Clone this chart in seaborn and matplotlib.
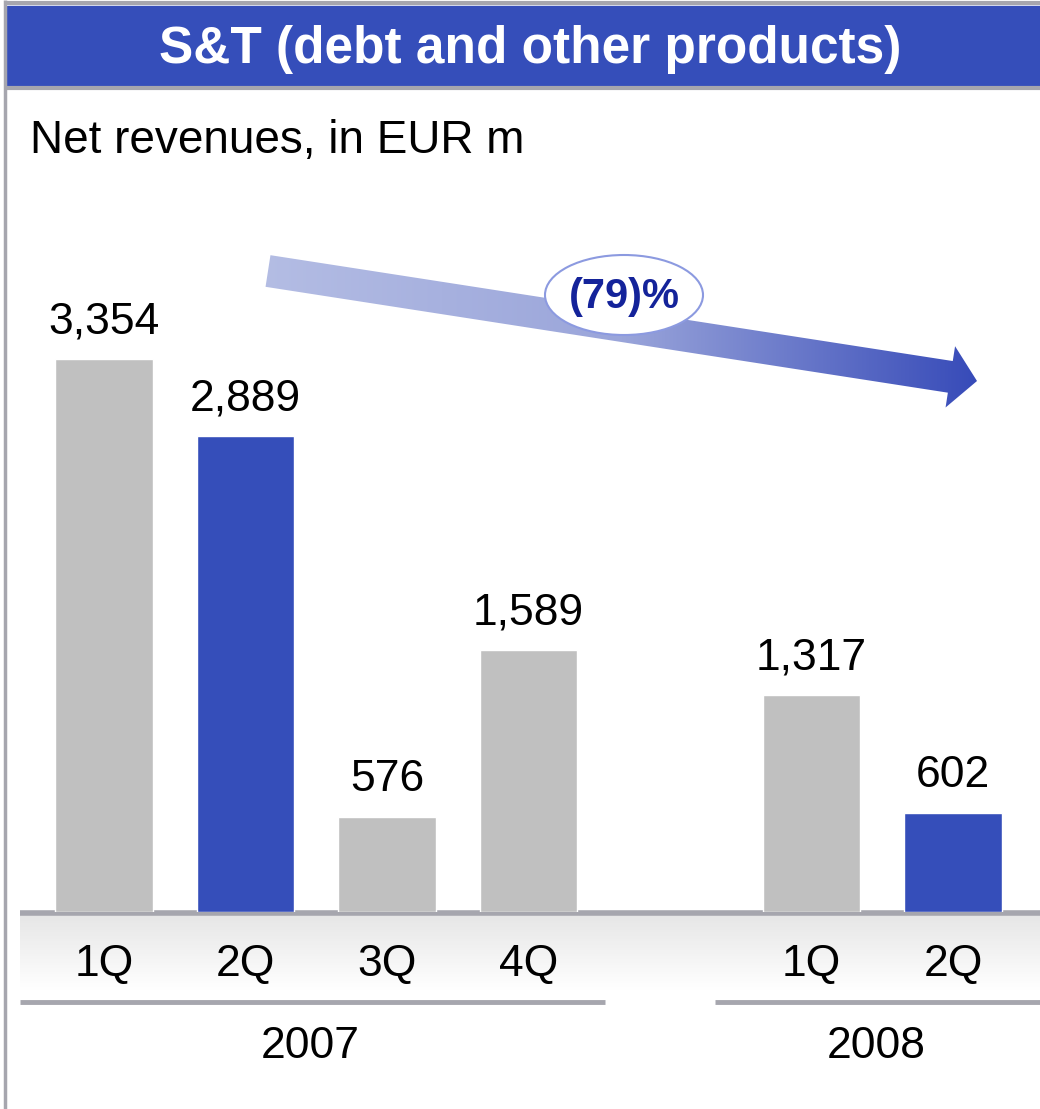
import numpy as np
import pandas as pd
import seaborn as sns
import matplotlib.pyplot as plt
from matplotlib.patches import Rectangle, Ellipse, Polygon
from matplotlib.transforms import blended_transform_factory

# chart data
quarters = ['1Q', '2Q', '3Q', '4Q', '1Q', '2Q']
years = ['2007', '2007', '2007', '2007', '2008', '2008']
revenues = [3354, 2889, 576, 1589, 1317, 602]
highlight = [False, True, False, False, False, True]
title = 'S&T (debt and other products)'
subtitle = 'Net revenues, in EUR m'
change_label = '(79)%'

BLUE = '#354EBA'
GREY_BAR = '#C0C0C0'
LINE_GREY = '#A6A6AE'

sns.set_style('white')
plt.rcParams['font.family'] = ['Liberation Sans', 'DejaVu Sans']
plt.rcParams['text.color'] = 'black'
plt.rcParams['xtick.color'] = 'black'

df = pd.DataFrame({'quarter': quarters, 'year': years, 'revenue': revenues, 'hl': highlight})
df['period'] = df['quarter'] + ' ' + df['year']

# empty slot between the two years
order = []
for y in df['year'].unique():
    if order:
        order.append('')
    order.extend(df.loc[df['year'] == y, 'period'])
palette = {p: (BLUE if h else GREY_BAR) for p, h in zip(df['period'], df['hl'])}

W, H = 1040, 1109
fig = plt.figure(figsize=(W / 100, H / 100), dpi=100)

# background overlay in pixel coordinates for decorations
ov = fig.add_axes([0, 0, 1, 1], zorder=0)
ov.set_facecolor('none')
ov.axis('off')

# bar axes: baseline at y=912px, slot width 141.5px, first bar centre at 104px
px_per_unit = (912 - 359) / 3354
base_frac = (H - 912) / H
top_frac = (H - 90) / H
ax = fig.add_axes([0, base_frac, 1, top_frac - base_frac], zorder=1)
ax.set_facecolor('none')
sns.barplot(data=df, x='period', y='revenue', hue='period', order=order,
            palette=palette, width=0.69, saturation=1, legend=False, ax=ax)
ax.set_xlim(-104 / 141.5, (W - 104) / 141.5)
ax.set_ylim(0, (912 - 90) / px_per_unit)
for c in ax.containers:
    ax.bar_label(c, fmt='{:,.0f}', padding=12, fontsize=32)
ax.set_xticks(range(len(order)))
ax.set_xticklabels([p.split(' ')[0] for p in order], fontsize=32)
ax.tick_params(axis='x', length=0, pad=23)
ax.set_yticks([])
ax.set_xlabel('')
ax.set_ylabel('')
sns.despine(ax=ax, left=True, bottom=True)

# year labels centred under each group
trans = blended_transform_factory(ax.transData, fig.transFigure)
for y in df['year'].unique():
    pos = [order.index(p) for p in df.loc[df['year'] == y, 'period']]
    ax.text(np.mean(pos) - 0.04, (H - 1047) / H, y, transform=trans, fontsize=32,
            ha='center', va='center')

# frame and title bar
ov.add_patch(Rectangle((7, 6), W - 7, 81, color=BLUE, zorder=1))
ov.plot([7, W], [3, 3], color=LINE_GREY, lw=3, solid_capstyle='butt')
ov.plot([7, W], [88, 88], color=LINE_GREY, lw=3, solid_capstyle='butt')
ov.plot([5, 5], [0, H], color=LINE_GREY, lw=2.5, solid_capstyle='butt')
ov.text(530, 50, title, color='white', fontsize=37, fontweight='bold',
        ha='center', va='center')
ov.text(30, 141, subtitle, fontsize=33, ha='left', va='center')

# grey gradient band under the baseline
band = np.linspace(0, 1, 100).reshape(-1, 1)
ov.imshow(band, extent=(20, W, 990, 914), cmap=sns.blend_palette(['#E6E6E6', '#FFFFFF'], as_cmap=True),
          aspect='auto', zorder=0)
ov.plot([20, W], [913, 913], color=LINE_GREY, lw=4, solid_capstyle='butt')
ov.plot([20, 605], [1002, 1002], color=LINE_GREY, lw=3.5, solid_capstyle='butt')
ov.plot([715, W], [1002, 1002], color=LINE_GREY, lw=3.5, solid_capstyle='butt')

# gradient arrow
start = np.array([268.0, 271.0])
tip = np.array([977.0, 381.0])
u = (tip - start) / np.linalg.norm(tip - start)
n = np.array([-u[1], u[0]])
hb = tip - 27 * u
pts = [start - 16 * n, hb - 16 * n, hb - 31 * n, tip, hb + 31 * n, hb + 16 * n, start + 16 * n]
arrow = Polygon(pts, closed=True, fc='none', ec='none')
ov.add_patch(arrow)
grad = np.linspace(0, 1, 256).reshape(1, -1)
img = ov.imshow(grad, extent=(260, 985, 415, 245), aspect='auto', zorder=2,
                cmap=sns.blend_palette(['#B4BDE4', '#9AA5DA', '#3549B8'], as_cmap=True))
img.set_clip_path(arrow)

ov.add_patch(Ellipse((624, 295), 158, 80, fc='white', ec='#8C9AE0', lw=1.5, zorder=3))
ov.text(624, 297, change_label, color='#14239A', fontsize=30, fontweight='bold',
        ha='center', va='center', zorder=4)

ov.set_xlim(0, W)
ov.set_ylim(H, 0)

fig.savefig('out.png', dpi=100, facecolor='white')
